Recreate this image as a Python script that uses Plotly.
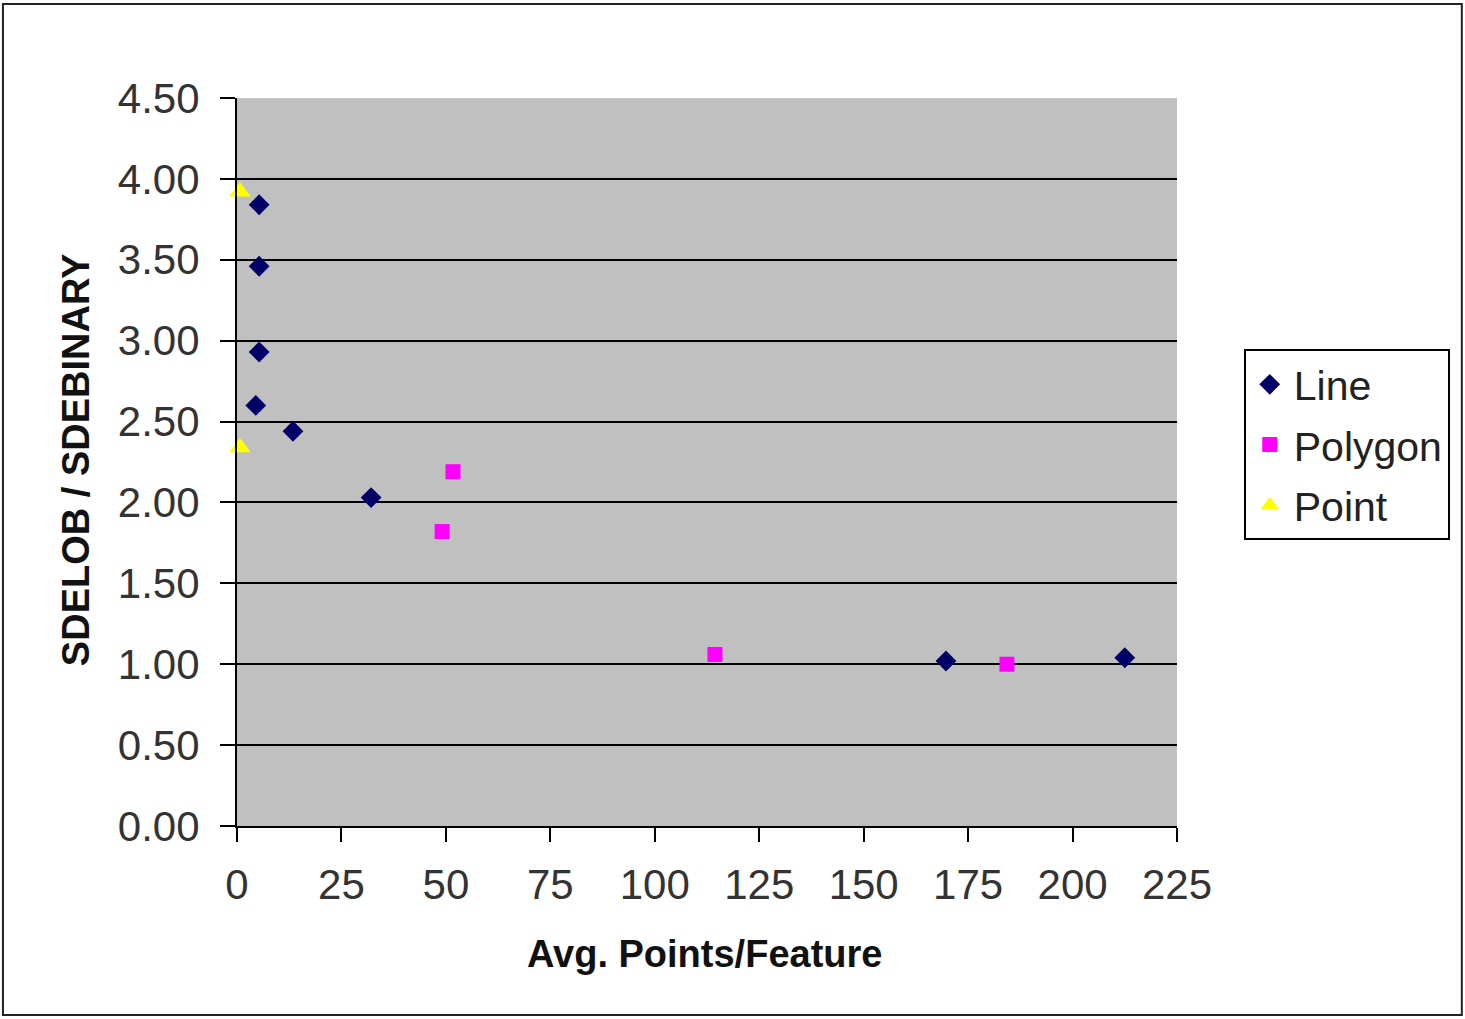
import plotly.graph_objects as go

# Avg. points per feature vs. SDELOB / SDEBINARY ratio, by geometry type
line_x = [5.3, 5.3, 5.3, 4.5, 13.4, 32.1, 169.7, 212.5]
line_y = [3.84, 3.46, 2.93, 2.60, 2.44, 2.03, 1.02, 1.04]

polygon_x = [51.7, 49.1, 114.4, 184.3]
polygon_y = [2.19, 1.82, 1.06, 1.00]

point_x = [0.7, 0.7]
point_y = [3.92, 2.34]

x_ticks = [0, 25, 50, 75, 100, 125, 150, 175, 200, 225]
y_ticks = [0.0, 0.5, 1.0, 1.5, 2.0, 2.5, 3.0, 3.5, 4.0, 4.5]
y_tick_labels = ["%.2f" % v for v in y_ticks]
grid_vals = [0.5, 1.0, 1.5, 2.0, 2.5, 3.0, 3.5, 4.0]

FONT = "Liberation Sans, Arial, sans-serif"

fig = go.Figure()
fig.add_trace(go.Scatter(x=line_x, y=line_y, mode="markers", name="Line", legendgroup="a",
                         cliponaxis=False,
                         marker=dict(symbol="diamond", size=16, color="#000066")))
fig.add_trace(go.Scatter(x=polygon_x, y=polygon_y, mode="markers", name="Polygon", legendgroup="b",
                         cliponaxis=False,
                         marker=dict(symbol="square", size=15, color="#FF00FF")))
fig.add_trace(go.Scatter(x=point_x, y=point_y, mode="markers", name="Point", legendgroup="c",
                         cliponaxis=False,
                         marker=dict(symbol="triangle-up", size=19, color="#FFFF00")))
# empty trace carrying the horizontal gridlines
fig.add_trace(go.Scatter(x=[None], y=[None], yaxis="y2", showlegend=False, hoverinfo="skip"))

fig.update_layout(
    width=1465, height=1019,
    margin=dict(l=237, r=288, t=98, b=193),
    paper_bgcolor="white",
    plot_bgcolor="#C0C0C0",
    font=dict(family=FONT, color="#222222"),
    xaxis=dict(
        range=[0, 225], tickmode="array", tickvals=x_ticks,
        showgrid=False, zeroline=False,
        showline=True, linecolor="black", linewidth=2,
        ticks="outside", ticklen=14, tickwidth=2, tickcolor="black",
        tickfont=dict(size=42, color="#333333"), ticklabelstandoff=7,
    ),
    yaxis=dict(
        range=[0, 4.5], tickmode="array", tickvals=y_ticks, ticktext=y_tick_labels,
        showgrid=False, zeroline=False,
        showline=True, linecolor="black", linewidth=2,
        ticks="outside", ticklen=15, tickwidth=2, tickcolor="black",
        tickfont=dict(size=42, color="#333333"), ticklabelstandoff=12,
    ),
    yaxis2=dict(
        overlaying="y", range=[0, 4.5], tickmode="array", tickvals=grid_vals,
        showgrid=True, gridcolor="black", gridwidth=2,
        showticklabels=False, zeroline=False, showline=False,
    ),
    legend=dict(
        x=1.071, y=0.655, xanchor="left", yanchor="top",
        bordercolor="black", borderwidth=2, bgcolor="white",
        font=dict(size=41, color="#222222"),
        tracegroupgap=4, itemwidth=38,
    ),
    showlegend=True,
    annotations=[
        dict(text="<b>Avg. Points/Feature</b>", xref="paper", yref="paper",
             x=0.497, y=-0.176, showarrow=False, font=dict(size=38, color="#111111"),
             xanchor="center", yanchor="middle"),
        dict(text="<b>SDELOB / SDEBINARY</b>", xref="paper", yref="paper",
             x=-0.172, y=0.503, showarrow=False, textangle=-90,
             font=dict(size=38, color="#111111"), xanchor="center", yanchor="middle"),
    ],
    shapes=[
        dict(type="rect", xref="paper", yref="paper",
             x0=-0.249, x1=1.303, y0=-0.2596, y1=1.129,
             line=dict(color="#222222", width=2), fillcolor="rgba(0,0,0,0)", layer="below"),
    ],
)

fig.write_html("out.html")
